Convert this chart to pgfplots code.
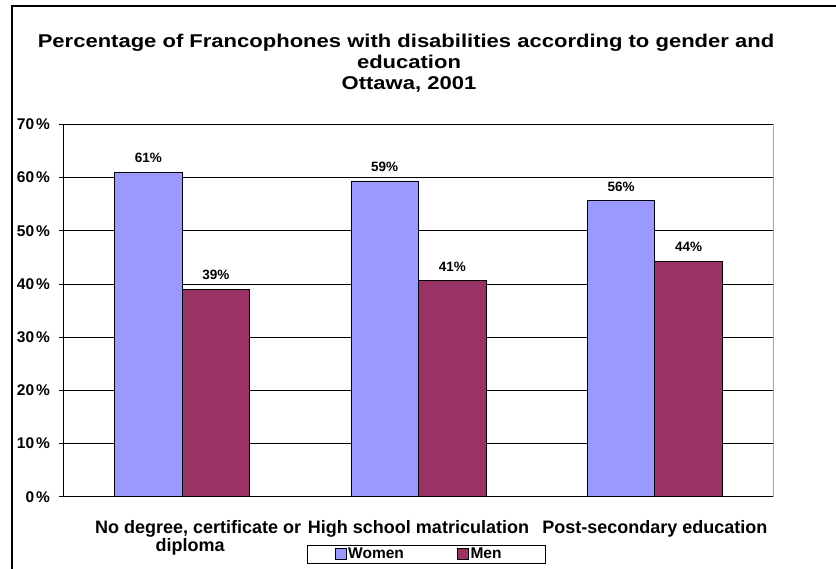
\documentclass[border=0pt]{standalone}
\usepackage{fontspec}
\setmainfont{Liberation Sans}
\newfontfamily\titlefont{Liberation Sans}[FakeStretch=1.19]
\usepackage{pgfplots}
\pgfplotsset{compat=1.18}
\definecolor{women}{HTML}{9999FF}
\definecolor{men}{HTML}{993366}
\begin{document}
\begin{tikzpicture}[x=1bp,y=1bp]
\useasboundingbox (-64,-72.3) rectangle (772,496.7);
\draw[line width=1.2bp] (-52,-72.3) -- (-52,490.7) -- (772,490.7);
\begin{scope}[every node/.style={anchor=base,inner sep=0pt,font=\titlefont\bfseries\fontsize{18.5bp}{21bp}\selectfont}]
\node at (342,449.4) {Percentage of Francophones with disabilities according to gender and};
\node at (345,428.5) {education};
\node at (345,407.5) {Ottawa, 2001};
\end{scope}
\begin{axis}[
  at={(0,0)}, anchor=south west,
  scale only axis, width=709bp, height=372.2bp,
  xmin=-0.5, xmax=2.5, ymin=0, ymax=70,
  ybar, bar width=0.2857,
  /pgf/number format/assume math mode=true,
  xtick={0,1,2},
  xticklabels={{\hspace*{32bp}No degree, certificate or\\\hspace*{16bp}diploma},{High school matriculation},{Post-secondary education}},
  xticklabel style={align=center, inner sep=0pt, yshift=-18.6bp, font=\bfseries\fontsize{18bp}{16.7bp}\selectfont},
  major x tick style={draw=none},
  extra x ticks={-0.5,0.5,1.5,2.5}, extra x tick labels={},
  extra x tick style={major tick length=5bp, tick style={black, line width=0.8bp}, grid=none},
  tick align=outside, xtick pos=left, ytick pos=left,
  ytick={0,10,...,70},
  yticklabel={\pgfmathprintnumber{\tick}\hspace{1.8bp}\%},
  yticklabel style={inner sep=0pt, xshift=-9bp, font=\bfseries\fontsize{15.5bp}{17bp}\selectfont},
  major tick length=5bp,
  tick style={black, line width=0.8bp},
  ymajorgrids, grid style={black, line width=0.7bp},
  axis line style={black, line width=1bp},
  nodes near coords={\pgfmathprintnumber[fixed,precision=0]{\pgfplotspointmeta}\%},
  every node near coord/.append style={font=\bfseries\fontsize{13.5bp}{15bp}\selectfont, inner sep=0pt, anchor=south, yshift=9bp, black},
  legend image code/.code={\draw[#1,draw=black,line width=0.7bp] (0bp,-5.5bp) rectangle (11bp,5.5bp);},
  legend columns=2,
  legend style={at={(axis description cs:0.5106,-0.154)}, anchor=center, draw=black, line width=0.8bp,
    font=\bfseries\fontsize{15.5bp}{17bp}\selectfont, inner xsep=28bp, inner ysep=1bp,
    /tikz/every even column/.append style={column sep=52bp},
    nodes={inner xsep=1.5bp, inner ysep=2bp}},
]
\addplot[fill=women, draw=black, line width=0.7bp, bar shift=-0.14285] coordinates {(0,61.0) (1,59.4) (2,55.7)};
\addlegendentry{Women}
\addplot[fill=men, draw=black, line width=0.7bp, bar shift=0.14285] coordinates {(0,39.0) (1,40.6) (2,44.3)};
\addlegendentry{Men\hspace*{14bp}}
\end{axis}
\draw[gray!70, line width=1bp] (709,0) -- (709,372.2);
\draw[black, line width=1.6bp] (0,372.2) -- (709,372.2);
\end{tikzpicture}
\end{document}
